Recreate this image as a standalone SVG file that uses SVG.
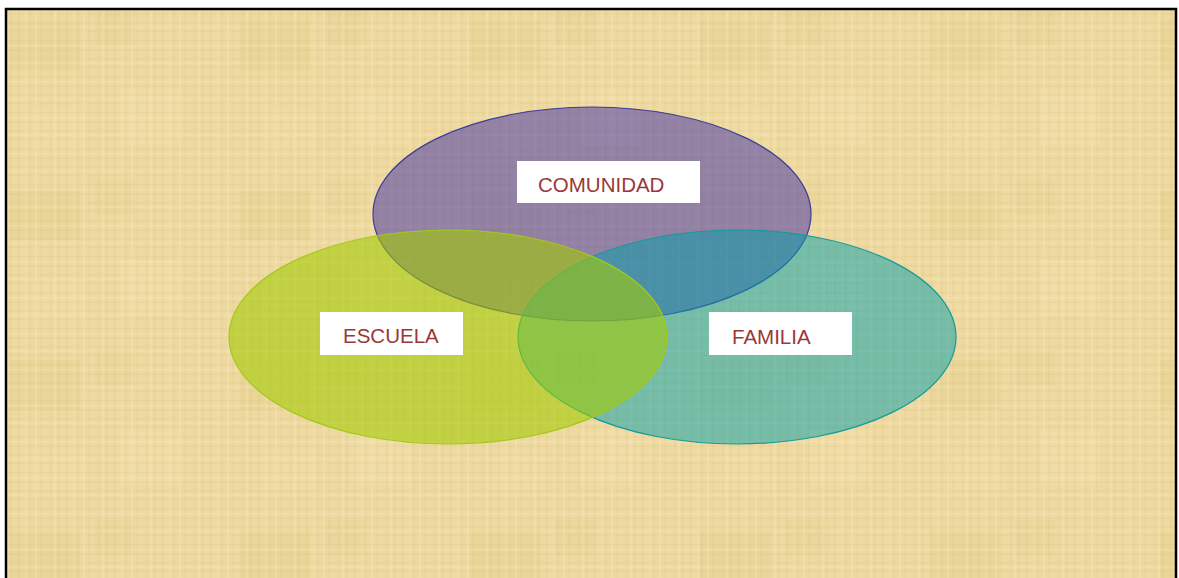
<svg xmlns="http://www.w3.org/2000/svg" width="1179" height="578" viewBox="0 0 1179 578">
  <defs>
    <pattern id="weave" width="48" height="36" patternUnits="userSpaceOnUse">
      <path d="M3 0V36M11 0V36M19 0V36M30 0V36M41 0V36" stroke="#c9ad62" stroke-opacity="0.2" stroke-width="1"/>
      <path d="M0 5H48M0 14H48M0 23H48M0 31H48" stroke="#c9ad62" stroke-opacity="0.18" stroke-width="1"/>
      <path d="M7 0V36M26 0V36M36 0V36" stroke="#fff4d8" stroke-opacity="0.3" stroke-width="1"/>
      <path d="M0 10H48M0 27H48" stroke="#fff4d8" stroke-opacity="0.3" stroke-width="1"/>
    </pattern>
    <pattern id="blotch" width="230" height="170" patternUnits="userSpaceOnUse">
      <rect x="10" y="20" width="70" height="50" fill="#d8bd6c" fill-opacity="0.12"/>
      <rect x="120" y="90" width="60" height="55" fill="#f6e6b8" fill-opacity="0.22"/>
      <rect x="95" y="10" width="40" height="35" fill="#dcc072" fill-opacity="0.12"/>
      <rect x="30" y="110" width="55" height="40" fill="#f4e2b0" fill-opacity="0.18"/>
    </pattern>
  </defs>
  <style>
    .lbl-box { fill: #ffffff; }
    .lbl { font-family: "Liberation Sans", Arial, sans-serif; font-size: 20.5px; fill: #9a3838; }
  </style>
  <rect x="0" y="0" width="1179" height="578" fill="#ffffff"/>
  <rect x="6" y="9" width="1170" height="569" fill="#eed9a0"/>
  <rect x="6" y="9" width="1170" height="569" fill="url(#blotch)"/>
  <rect x="6" y="9" width="1170" height="569" fill="url(#weave)"/>
  <path d="M6 578V9H1176V578" fill="none" stroke="#000000" stroke-width="2.5"/>

  <g id="comunidad">
    <ellipse cx="592" cy="214" rx="219" ry="107" fill="#3a2ca8" fill-opacity="0.5" stroke="#3c3c98" stroke-width="1.2"/>
  </g>
  <g id="familia">
    <ellipse cx="737" cy="337" rx="219" ry="107" fill="#00a0ac" fill-opacity="0.5" stroke="#139c9c" stroke-width="1.2"/>
  </g>
  <g id="escuela">
    <ellipse cx="448" cy="337" rx="219" ry="107" fill="#a2cc00" fill-opacity="0.58" stroke="#a4c81c" stroke-width="1.2"/>
  </g>

  <g id="label-comunidad">
    <rect class="lbl-box" x="517" y="161" width="183" height="42"/>
    <text class="lbl" x="538" y="192">COMUNIDAD</text>
  </g>
  <g id="label-escuela">
    <rect class="lbl-box" x="320" y="312" width="143" height="43"/>
    <text class="lbl" x="343" y="343">ESCUELA</text>
  </g>
  <g id="label-familia">
    <rect class="lbl-box" x="709" y="312" width="143" height="43"/>
    <text class="lbl" x="732" y="344">FAMILIA</text>
  </g>
  <g id="connectors"></g>
</svg>
